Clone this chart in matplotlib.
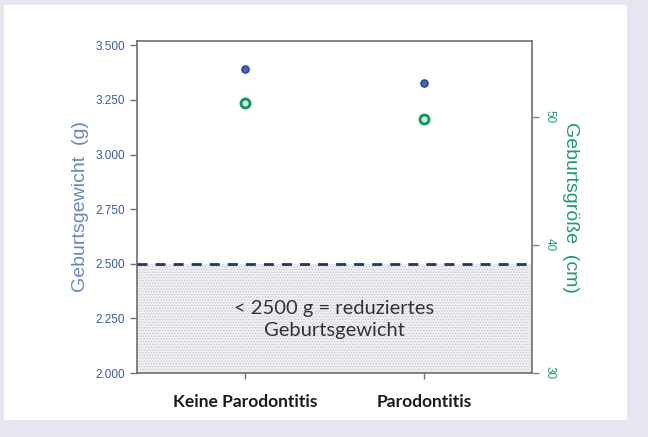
import matplotlib
matplotlib.use("Agg")
import matplotlib.pyplot as plt
from matplotlib.patches import Rectangle

# data
groups = ["Keine Parodontitis", "Parodontitis"]
gewicht = [3394, 3330]          # Geburtsgewicht (g), left axis
groesse = [51.1, 49.8]          # Geburtsgroesse (cm), right axis
left_ticks = [2000, 2250, 2500, 2750, 3000, 3250, 3500]
left_labels = ["2.000", "2.250", "2.500", "2.750", "3.000", "3.250", "3.500"]
right_ticks = [30, 40, 50]
grenze = 2500

plt.rcParams["hatch.linewidth"] = 0.5

fig = plt.figure(figsize=(6.48, 4.37), dpi=100)
fig.patch.set_facecolor("#e6e5f0")
# white panel on the lavender background
fig.patches.append(Rectangle((4 / 648, 1 - 420 / 437), 623 / 648, 415 / 437,
                             transform=fig.transFigure, facecolor="white",
                             edgecolor="none", zorder=-5))

ax = fig.add_axes([137 / 648, 1 - 373 / 437, 395 / 648, 332 / 437])
ax.set_facecolor("none")
ax.set_xlim(-0.6, 1.6)
ax.set_ylim(2000, 3520)

# shaded area under 2500 g
ax.axhspan(2000, grenze, facecolor="#efeff3", edgecolor="#c4c4cc",
           hatch="......", linewidth=0, zorder=1)
ln = ax.axhline(grenze, color="#1e3a5c", lw=2, zorder=3)
ln.set_dashes([3.6, 2.9])

ax.text(0.5, 2245, "< 2500 g = reduziertes\nGeburtsgewicht", ha="center",
        va="center", fontsize=14.5, family="Lato", color="#333333",
        linespacing=1.4, zorder=4)

ax.plot(range(len(groups)), gewicht, "o", ms=5, mfc="#4a66b0", mec="#2e4890",
        mew=1.2, zorder=5)

ax.set_yticks(left_ticks)
ax.set_yticklabels(left_labels, family="Liberation Sans", fontsize=8.5,
                   color="#3d5a9a")
ax.set_xticks(range(len(groups)))
ax.set_xticklabels(groups, family="Lato", fontweight="bold", fontsize=12.5,
                   color="#1a1a1a")
ax.tick_params(axis="y", direction="out", length=5, color="#707070", width=1)
ax.tick_params(axis="x", direction="out", length=4, color="#707070", width=1,
               pad=11)
ax.set_ylabel("Geburtsgewicht  (g)", family="Liberation Sans", fontsize=14,
              color="#6589bb", labelpad=5)
for s in ax.spines.values():
    s.set_color("#6e6e6e")
    s.set_linewidth(1.2)

ax2 = ax.twinx()
ax2.set_ylim(30, 55.9)
ax2.plot(range(len(groups)), groesse, "o", ms=6.5, mfc="#c6eedd",
         mec="#15925a", mew=2, zorder=5)
ax2.set_yticks(right_ticks)
ax2.set_yticklabels([str(t) for t in right_ticks], family="Liberation Sans",
                    fontsize=8.5, color="#1f9a6a", rotation=-90, va="center")
ax2.tick_params(axis="y", direction="out", length=5, color="#3aa87a", width=1)
ax2.set_ylabel("Geburtsgröße  (cm)", family="Liberation Sans", fontsize=14,
               color="#1f9a6a", rotation=-90, labelpad=17)
for s in ax2.spines.values():
    s.set_visible(False)

fig.savefig("out.png", dpi=100, facecolor=fig.get_facecolor())
